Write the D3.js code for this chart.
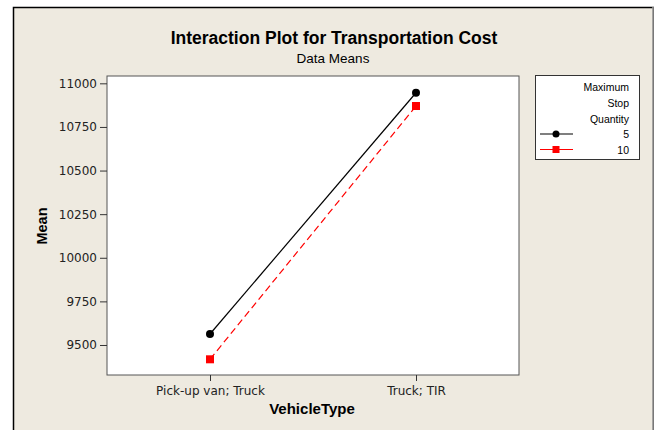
<!DOCTYPE html>
<html>
<head>
<meta charset="utf-8">
<script src="https://cdn.jsdelivr.net/npm/d3@7"></script>
<style>
  body { margin: 0; background: #ffffff; }
  svg { display: block; }
  text { font-family: "Liberation Sans", "DejaVu Sans", sans-serif; }
</style>
</head>
<body>
<svg id="chart" width="654" height="430"></svg>
<script>
// Data
const categories = ["Pick-up van; Truck", "Truck; TIR"];
const seriesNames = ["5", "10"];
const mean5 = [9563, 10946];
const mean10 = [9418, 10870];
const yTicks = [9500, 9750, 10000, 10250, 10500, 10750, 11000];

const svg = d3.select("#chart");

// outer panel
svg.append("rect")
  .attr("x", 13.5).attr("y", 7.5)
  .attr("width", 640).attr("height", 430)
  .attr("fill", "#eeeae0")
  .attr("stroke", "#000").attr("stroke-width", 1.5);
svg.append("line")
  .attr("x1", 653).attr("x2", 653).attr("y1", 7).attr("y2", 430)
  .attr("stroke", "#a0a0a0").attr("stroke-width", 1.5);

const plot = {left: 107, top: 76, right: 519, bottom: 375};

// Set the scales
var x = d3.scalePoint().domain(categories)
  .range([plot.left, plot.right]).padding(0.5);
var y = d3.scaleLinear().domain([9328, 11042])
  .range([plot.bottom, plot.top]);

// plot area
svg.append("rect")
  .attr("x", plot.left).attr("y", plot.top)
  .attr("width", plot.right - plot.left)
  .attr("height", plot.bottom - plot.top)
  .attr("fill", "#fff")
  .attr("stroke", "#555").attr("stroke-width", 1);

// titles
svg.append("text")
  .attr("x", 334).attr("y", 44)
  .attr("text-anchor", "middle")
  .style("font-size", "17.5px").style("font-weight", "bold")
  .text("Interaction Plot for Transportation Cost");
svg.append("text")
  .attr("x", 333).attr("y", 63)
  .attr("text-anchor", "middle")
  .style("font-size", "13.5px")
  .text("Data Means");

// Y axis
var yAxis = svg.append("g")
  .attr("transform", "translate(" + plot.left + ",0)")
  .call(d3.axisLeft(y).tickValues(yTicks).tickSize(7).tickPadding(3).tickFormat(d3.format("d")));
yAxis.select(".domain").remove();
yAxis.selectAll("line").attr("stroke", "#333");
yAxis.selectAll("text")
  .style("font-size", "12px")
  .style("font-family", "'DejaVu Sans', sans-serif")
  .attr("fill", "#222");

// X axis
var xAxis = svg.append("g")
  .attr("transform", "translate(0," + plot.bottom + ")")
  .call(d3.axisBottom(x).tickSize(6).tickPadding(5));
xAxis.select(".domain").remove();
xAxis.selectAll("line").attr("stroke", "#333");
xAxis.selectAll("text")
  .style("font-size", "12px")
  .style("font-family", "'DejaVu Sans', sans-serif")
  .attr("fill", "#222");

// axis titles
svg.append("text")
  .attr("x", 312).attr("y", 414)
  .attr("text-anchor", "middle")
  .style("font-size", "15px").style("font-weight", "bold")
  .text("VehicleType");
svg.append("text")
  .attr("transform", "translate(47,226) rotate(-90)")
  .attr("text-anchor", "middle")
  .style("font-size", "14.5px").style("font-weight", "bold")
  .text("Mean");

// lines
var line = d3.line()
  .x(function(d, i) { return x(categories[i]); })
  .y(function(d) { return y(d); });

svg.append("path")
  .attr("d", line(mean5))
  .attr("fill", "none")
  .attr("stroke", "#000").attr("stroke-width", 1.2);
svg.append("path")
  .attr("d", line(mean10))
  .attr("fill", "none")
  .attr("stroke", "#ff0000").attr("stroke-width", 1.2)
  .attr("stroke-dasharray", "7,4");

svg.selectAll(".dot5")
  .data(mean5)
  .enter().append("circle")
  .attr("class", "dot5")
  .attr("cx", function(d, i) { return x(categories[i]); })
  .attr("cy", function(d) { return y(d); })
  .attr("r", 4)
  .attr("fill", "#000");

svg.selectAll(".sq10")
  .data(mean10)
  .enter().append("rect")
  .attr("class", "sq10")
  .attr("x", function(d, i) { return x(categories[i]) - 4; })
  .attr("y", function(d) { return y(d) - 4; })
  .attr("width", 8).attr("height", 8)
  .attr("fill", "#ff0000");

// legend
var lg = svg.append("g");
lg.append("rect")
  .attr("x", 535.5).attr("y", 75.5)
  .attr("width", 104).attr("height", 84)
  .attr("fill", "#fff")
  .attr("stroke", "#333").attr("stroke-width", 1);
["Maximum", "Stop", "Quantity"].forEach(function(t, i) {
  lg.append("text")
    .attr("x", 629).attr("y", 91 + i * 16)
    .attr("text-anchor", "end")
    .style("font-size", "10.5px")
    .text(t);
});
seriesNames.forEach(function(name, i) {
  var yy = 134 + i * 15.5;
  lg.append("line")
    .attr("x1", 540).attr("x2", 573).attr("y1", yy).attr("y2", yy)
    .attr("stroke", i === 0 ? "#000" : "#ff0000").attr("stroke-width", 1.2);
  if (i === 0) {
    lg.append("circle").attr("cx", 556).attr("cy", yy).attr("r", 3.5).attr("fill", "#000");
  } else {
    lg.append("rect").attr("x", 552.5).attr("y", yy - 3.5).attr("width", 7).attr("height", 7).attr("fill", "#ff0000");
  }
  lg.append("text")
    .attr("x", 629).attr("y", yy + 4)
    .attr("text-anchor", "end")
    .style("font-size", "10.5px")
    .text(name);
});
</script>
</body>
</html>
